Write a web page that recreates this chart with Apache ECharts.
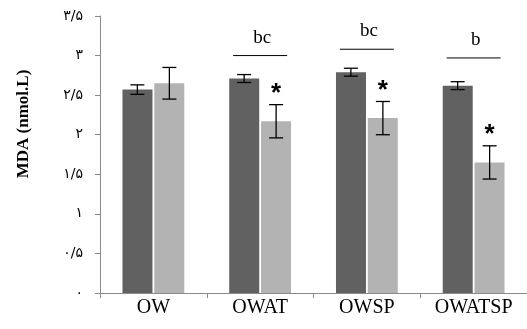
<!DOCTYPE html>
<html>
<head>
<meta charset="utf-8">
<script src="https://cdn.jsdelivr.net/npm/echarts@6/dist/echarts.min.js"></script>
<style>
html,body{margin:0;padding:0;background:#fff;}
#chart{width:527px;height:329px;}
</style>
</head>
<body>
<div id="chart"></div>
<script>
const categories = ['OW', 'OWAT', 'OWSP', 'OWATSP'];
const group1 = [2.57, 2.71, 2.79, 2.62];
const group1Err = [0.06, 0.05, 0.05, 0.05];
const group2 = [2.65, 2.17, 2.21, 1.65];
const group2Err = [0.2, 0.21, 0.21, 0.21];
const bracketValues = [null, 3.0, 3.08, 2.97];
const bracketLetters = ['', 'bc', 'bc', 'b'];
const significant = [false, true, true, true];
const yTickLabels = ['۰', '۰/۵', '۱', '۱/۵', '۲', '۲/۵', '۳', '۳/۵'];
const yAxisTitle = 'MDA (nmol.L)';

const BAR_W = 30;
const OFFSET = 16;
const CAP = 7;

function errItems(vals, errs) {
  return vals.map((v, i) => [i, v, errs[i]]);
}

function errRender(offset) {
  return function (params, api) {
    const i = api.value(0), v = api.value(1), e = api.value(2);
    const top = api.coord([i, v + e]);
    const bot = api.coord([i, v - e]);
    const x = top[0] + offset;
    const st = { stroke: '#000', lineWidth: 1.3 };
    return {
      type: 'group',
      children: [
        { type: 'line', shape: { x1: x, y1: top[1], x2: x, y2: bot[1] }, style: st },
        { type: 'line', shape: { x1: x - CAP, y1: top[1], x2: x + CAP, y2: top[1] }, style: st },
        { type: 'line', shape: { x1: x - CAP, y1: bot[1], x2: x + CAP, y2: bot[1] }, style: st }
      ]
    };
  };
}

const bracketData = bracketValues.map((v, i) => [i, v == null ? '-' : v, bracketLetters[i]]).filter(d => d[1] !== '-');
const starData = significant.map((s, i) => s ? [i, group2[i] + group2Err[i]] : null).filter(d => d);

const chart = echarts.init(document.getElementById('chart'));
chart.setOption({
  animation: false,
  backgroundColor: '#fff',
  grid: { left: 100, right: -9, top: 16, bottom: 36 },
  xAxis: {
    type: 'category',
    data: categories,
    axisLine: { lineStyle: { color: '#8a8a8a', width: 1 } },
    axisTick: { show: true, inside: false, length: 5, lineStyle: { color: '#8a8a8a' } },
    axisLabel: { color: '#000', fontFamily: 'Liberation Serif', fontSize: 20, margin: 5 },
    splitLine: { show: false }
  },
  yAxis: {
    type: 'value',
    min: 0, max: 3.5, interval: 0.5,
    axisLine: { show: true, lineStyle: { color: '#8a8a8a', width: 1 } },
    axisTick: { show: true, inside: false, length: 5, lineStyle: { color: '#8a8a8a' } },
    axisLabel: {
      color: '#000', fontFamily: 'DejaVu Sans', fontSize: 14, margin: 17,
      formatter: function (v) { return yTickLabels[Math.round(v / 0.5)]; }
    },
    splitLine: { show: false }
  },
  graphic: [{
    type: 'text', x: 24, y: 124, rotation: Math.PI / 2,
    style: { text: yAxisTitle, fontFamily: 'Liberation Serif', fontWeight: 'bold', fontSize: 17, fill: '#000', textAlign: 'center', textVerticalAlign: 'middle' }
  }],
  series: [
    { type: 'bar', data: group1, barWidth: BAR_W, barGap: '6%', itemStyle: { color: '#616161' } },
    { type: 'bar', data: group2, barWidth: BAR_W, barGap: '6%', itemStyle: { color: '#b3b3b3' } },
    { type: 'custom', data: errItems(group1, group1Err), renderItem: errRender(-OFFSET), encode: { x: 0, y: 1 }, z: 5 },
    { type: 'custom', data: errItems(group2, group2Err), renderItem: errRender(OFFSET), encode: { x: 0, y: 1 }, z: 5 },
    {
      type: 'custom', data: bracketData, encode: { x: 0, y: 1 }, z: 5,
      renderItem: function (params, api) {
        const p = api.coord([api.value(0), api.value(1)]);
        const half = 27;
        return {
          type: 'group',
          children: [
            { type: 'line', shape: { x1: p[0] - half, y1: p[1], x2: p[0] + half, y2: p[1] }, style: { stroke: '#000', lineWidth: 1 } },
            { type: 'text', x: p[0] + 2, y: p[1] - 18, style: { text: api.value(2), fontFamily: 'Liberation Serif', fontSize: 19, fill: '#000', textAlign: 'center', textVerticalAlign: 'middle' } }
          ]
        };
      }
    },
    {
      type: 'custom', data: starData, encode: { x: 0, y: 1 }, z: 5,
      renderItem: function (params, api) {
        const p = api.coord([api.value(0), api.value(1)]);
        return { type: 'text', x: p[0] + OFFSET, y: p[1] - 11, style: { text: '*', fontFamily: 'Liberation Sans', fontWeight: 'bold', fontSize: 26, fill: '#000', textAlign: 'center', textVerticalAlign: 'middle' } };
      }
    }
  ]
});
</script>
</body>
</html>
